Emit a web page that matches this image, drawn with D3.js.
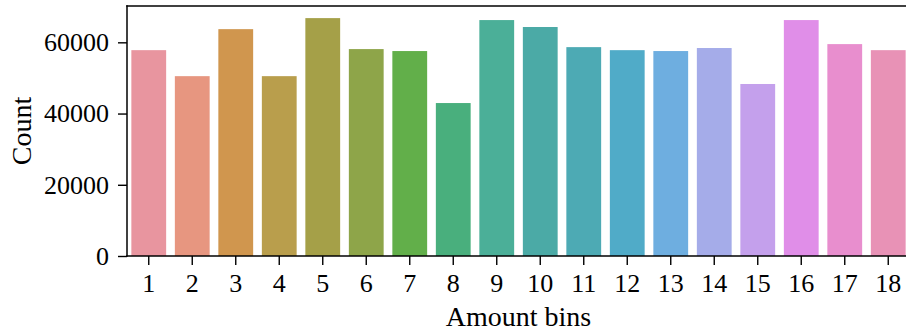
<!DOCTYPE html>
<html>
<head>
<meta charset="utf-8">
<script src="https://cdn.jsdelivr.net/npm/d3@7"></script>
<style>
  body { margin: 0; background: #fff; }
  svg text { font-family: "Liberation Serif", "Times New Roman", serif; fill: #000; }
</style>
</head>
<body>
<svg id="chart" width="906" height="335"></svg>
<script>
// amount bins and their counts
var bins = d3.range(1, 19).map(String)
var counts = [57800, 50500, 63700, 50500, 66800, 58100, 57550, 42950, 66250,
              64300, 58650, 57800, 57550, 58400, 48300, 66250, 59500, 57800]
var yTicks = [0, 20000, 40000, 60000]
var barColors = ["#e8959f", "#e79680", "#d0964e", "#b99e4c", "#a5a048", "#8ea549",
                 "#62af4a", "#49af7d", "#4baf98", "#4baaa6", "#4daab4", "#50abc8",
                 "#6eaee0", "#a5ace9", "#c4a0ec", "#e08ee8", "#e88ece", "#e892b6"]

var svg = d3.select("#chart")
// plot box (right edge lies just outside the picture, as in the original crop)
var pL = 127, pR = 910, pT = 6, pB = 256

var x = d3.scaleBand().domain(bins).range([pL, pR])
  .paddingInner(0.2).paddingOuter(0.1)
var y = d3.scaleLinear().domain([0, 70200]).range([pB, pT])
var color = d3.scaleOrdinal().domain(bins).range(barColors)

svg.append("g").selectAll("rect")
  .data(bins)
  .enter().append("rect")
    .attr("x", function(d) { return x(d) })
    .attr("y", function(d, i) { return y(counts[i]) })
    .attr("width", x.bandwidth())
    .attr("height", function(d, i) { return y(0) - y(counts[i]) })
    .style("fill", color)

var xAxis = svg.append("g")
  .attr("transform", "translate(0," + pB + ")")
  .call(d3.axisBottom(x).tickSize(9).tickPadding(9).tickSizeOuter(0))
var yAxis = svg.append("g")
  .attr("transform", "translate(" + pL + ",0)")
  .call(d3.axisLeft(y).tickValues(yTicks).tickFormat(d3.format("d"))
    .tickSize(9).tickPadding(9).tickSizeOuter(0))

svg.selectAll(".tick text").style("font-size", "26px").attr("font-family", null)
svg.selectAll(".tick line").attr("stroke", "#000").attr("stroke-width", 1.4)
svg.selectAll(".domain").remove()

// spines: left, bottom, top (right one falls outside the picture)
var spines = [[pL, pT, pL, pB], [pL, pB, pR, pB], [pL, pT, pR, pT]]
svg.append("g").selectAll("line").data(spines)
  .enter().append("line")
    .attr("x1", function(d) { return d[0] }).attr("y1", function(d) { return d[1] })
    .attr("x2", function(d) { return d[2] }).attr("y2", function(d) { return d[3] })
    .attr("stroke", "#000").attr("stroke-width", 1.5)
    .attr("stroke-linecap", "square")

svg.append("text")
  .attr("x", (pL + pR) / 2).attr("y", 326)
  .attr("text-anchor", "middle")
  .style("font-size", "28px")
  .text("Amount bins")

svg.append("text")
  .attr("transform", "translate(31," + (pT + pB) / 2 + ") rotate(-90)")
  .attr("text-anchor", "middle")
  .style("font-size", "28px")
  .text("Count")
</script>
</body>
</html>
